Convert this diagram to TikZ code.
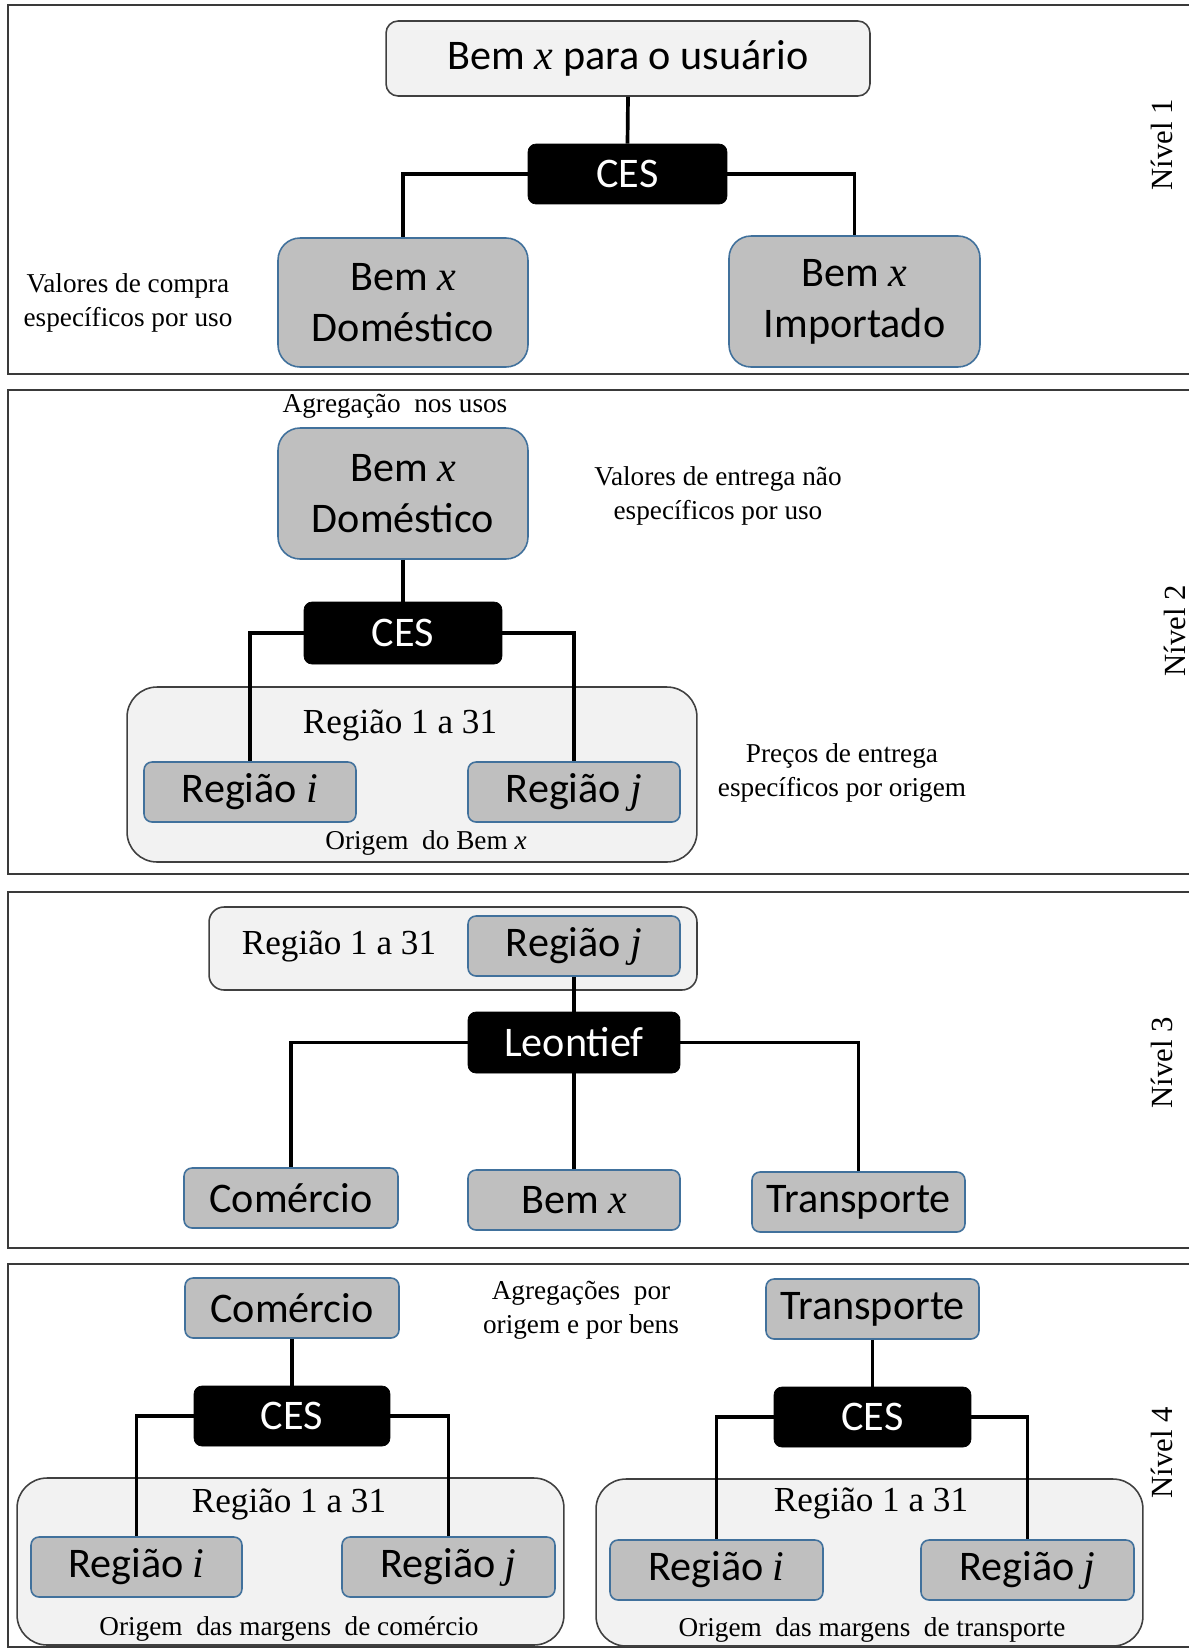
\documentclass[tikz,border=0pt]{standalone}
\usepackage{fontspec}
\setmainfont{Liberation Serif}
\newfontfamily\boxfont{Carlito}
\newcommand\vx{{\rmfamily\itshape x}}
\newcommand\vi{{\rmfamily\itshape i}}
\newcommand\vj{{\rmfamily\itshape j}}
\definecolor{gfill}{HTML}{BFBFBF}
\definecolor{gedge}{HTML}{41719C}
\definecolor{lfill}{HTML}{F2F2F2}
\definecolor{ledge}{HTML}{404040}
\definecolor{frm}{HTML}{3A3A3A}
\tikzset{
  frame/.style={draw=frm, line width=1.1pt},
  bigg/.style={draw=gedge, fill=gfill, line width=0.9pt, rounded corners=0.44cm, inner sep=0pt, align=center,
    font=\boxfont\fontsize{24}{29}\selectfont},
  smallg/.style={draw=gedge, fill=gfill, line width=0.9pt, rounded corners=0.16cm, inner sep=0pt, align=center,
    font=\boxfont\fontsize{24}{29}\selectfont},
  cesbox/.style={draw=black, fill=black, text=white, rounded corners=0.16cm, inner sep=0pt,
    font=\boxfont\fontsize{24}{29}\selectfont},
  lightbox/.style={draw=ledge, fill=lfill, line width=0.9pt, inner sep=0pt},
  conn/.style={draw=black, line width=2.1pt},
  ann/.style={align=center, inner sep=0pt, font=\fontsize{15.5}{19.3}\selectfont},
  reglab/.style={inner sep=0pt, font=\fontsize{20}{24}\selectfont},
  nivel/.style={rotate=90, inner sep=0pt, font=\fontsize{17.5}{20}\selectfont}
}
\begin{document}
\begin{tikzpicture}[x=0.02cm,y=-0.02cm]
\useasboundingbox (0,0) rectangle (1189,1650);
% panel frames
\draw[frame] (1200,5) -- (8,5) -- (8,374) -- (1200,374);
\draw[frame] (1200,390) -- (8,390) -- (8,874) -- (1200,874);
\draw[frame] (1200,892) -- (8,892) -- (8,1248) -- (1200,1248);
\draw[frame] (1200,1264) -- (8,1264) -- (8,1647) -- (1200,1647);

% ---------------- Nivel 1
\node[lightbox, rounded corners=0.24cm, minimum width=9.68cm, minimum height=1.5cm,
  font=\boxfont\fontsize{24}{29}\selectfont] (top1) at (628,58.5) {Bem \vx{} para o usuário};
\node[cesbox, minimum width=3.98cm, minimum height=1.2cm] (ces1) at (627.5,174) {CES};
\node[bigg, minimum width=5cm, minimum height=2.58cm] (dom1) at (403,302.5) {Bem \vx\\Doméstico};
\node[bigg, minimum width=5.02cm, minimum height=2.62cm] (imp1) at (854.5,301.5) {Bem \vx\\Importado};
\draw[conn] (top1.south) -- (ces1.north);
\draw[conn] (ces1.west) -| (dom1.north);
\draw[conn] (ces1.east) -| (imp1.north);
\node[ann] (a1) at (128,303) {Valores de compra\\específicos por uso};
\node[nivel] (n1) at (1162,145) {Nível 1};

% ---------------- Nivel 2
\node[lightbox, rounded corners=0.6cm, minimum width=11.4cm, minimum height=3.5cm] (reg2) at (412,774.5) {};
\node[bigg, minimum width=5cm, minimum height=2.62cm] (dom2) at (403,493.5) {Bem \vx\\Doméstico};
\node[cesbox, minimum width=3.96cm, minimum height=1.24cm] (ces2) at (403,633) {CES};
\node[smallg, minimum width=4.24cm, minimum height=1.2cm] (ri2) at (250,792) {Região \vi};
\node[smallg, minimum width=4.24cm, minimum height=1.2cm] (rj2) at (574,792) {Região \vj};
\draw[conn] (dom2.south) -- (ces2.north);
\draw[conn] (ces2.west) -| (ri2.north);
\draw[conn] (ces2.east) -| (rj2.north);
\node[ann] (a2) at (395,406) {Agregação\ \ nos usos};
\node[ann] (a3) at (718,496) {Valores de entrega não\\específicos por uso};
\node[reglab] (l2) at (400,725) {Região 1 a 31};
\node[ann] (o2) at (426,843) {Origem\ \ do Bem \vx};
\node[ann] (a4) at (842,773) {Preços de entrega\\específicos por origem};
\node[nivel] (n2) at (1175,631) {Nível 2};

% ---------------- Nivel 3
\node[lightbox, rounded corners=0.3cm, minimum width=9.76cm, minimum height=1.66cm] (out3) at (453,948.5) {};
\node[reglab] (l3) at (339,946) {Região 1 a 31};
\node[smallg, minimum width=4.24cm, minimum height=1.2cm] (rj3) at (574,946) {Região \vj};
\node[cesbox, minimum width=4.24cm, minimum height=1.22cm] (leo) at (574,1042.5) {Leontief};
\node[smallg, minimum width=4.28cm, minimum height=1.2cm] (com3) at (291,1198) {Comércio};
\node[smallg, minimum width=4.24cm, minimum height=1.2cm] (bem3) at (574,1200) {Bem \vx};
\node[smallg, minimum width=4.26cm, minimum height=1.2cm] (tra3) at (858.5,1202) {Transporte};
\draw[conn] (rj3.south) -- (leo.north);
\draw[conn] (leo.west) -| (com3.north);
\draw[conn] (leo.east) -| (tra3.north);
\draw[conn] (leo.south) -- (bem3.north);
\node[nivel] (n3) at (1162,1063) {Nível 3};

% ---------------- Nivel 4
\node[lightbox, rounded corners=0.6cm, minimum width=10.94cm, minimum height=3.34cm] (regA) at (290.5,1561.5) {};
\node[lightbox, rounded corners=0.6cm, minimum width=10.94cm, minimum height=3.34cm] (regB) at (869.5,1562.5) {};
\node[smallg, minimum width=4.28cm, minimum height=1.2cm] (com4) at (292,1308) {Comércio};
\node[smallg, minimum width=4.26cm, minimum height=1.2cm] (tra4) at (872.5,1309) {Transporte};
\node[cesbox, minimum width=3.92cm, minimum height=1.2cm] (ces4a) at (292,1416) {CES};
\node[cesbox, minimum width=3.94cm, minimum height=1.2cm] (ces4b) at (872.5,1417) {CES};
\node[smallg, minimum width=4.22cm, minimum height=1.2cm] (riA) at (136.5,1567) {Região \vi};
\node[smallg, minimum width=4.26cm, minimum height=1.2cm] (rjA) at (448.5,1567) {Região \vj};
\node[smallg, minimum width=4.26cm, minimum height=1.2cm] (riB) at (716.5,1570) {Região \vi};
\node[smallg, minimum width=4.26cm, minimum height=1.2cm] (rjB) at (1027.5,1570) {Região \vj};
\draw[conn] (com4.south) -- (ces4a.north);
\draw[conn] (ces4a.west) -| (riA.north);
\draw[conn] (ces4a.east) -| (rjA.north);
\draw[conn] (tra4.south) -- (ces4b.north);
\draw[conn] (ces4b.west) -| (riB.north);
\draw[conn] (ces4b.east) -| (rjB.north);
\node[ann] (a5) at (581,1310) {Agregações\ \ por\\origem e por bens};
\node[reglab] (lA) at (289,1504) {Região 1 a 31};
\node[reglab] (lB) at (871,1503) {Região 1 a 31};
\node[ann] (oA) at (289,1629) {Origem\ \ das margens\ \ de comércio};
\node[ann] (oB) at (872,1630) {Origem\ \ das margens\ \ de transporte};
\node[nivel] (n4) at (1162,1453) {Nível 4};
\end{tikzpicture}
\end{document}
